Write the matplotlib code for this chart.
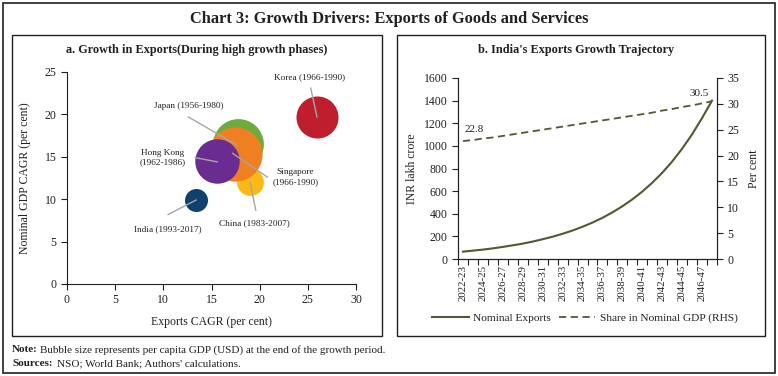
import matplotlib
matplotlib.use("Agg")
import matplotlib.pyplot as plt
from matplotlib.patches import Rectangle
import numpy as np

plt.rcParams['font.family'] = ['Liberation Serif', 'DejaVu Serif']

# ---------------- Panel a data ----------------
countries = ["Korea (1966-1990)", "Japan (1956-1980)", "China (1983-2007)",
             "Singapore\n(1966-1990)", "Hong Kong\n(1962-1986)", "India (1993-2017)"]
exports_cagr = [25.9, 17.7, 19.0, 17.4, 15.6, 13.4]
gdp_cagr = [19.7, 16.5, 12.0, 15.3, 14.5, 9.9]
per_capita_gdp = [6610, 9660, 2690, 11000, 7400, 1980]
bubble_colors = ["#BE1E2D", "#6DAB3C", "#FDB913", "#F07F22", "#6B2C91", "#0F416F"]
label_pos = [(25.2, 24.4), (12.6, 21.0), (19.5, 7.2), (23.7, 12.6), (9.9, 14.9), (10.5, 6.5)]
line_start = [(25.3, 23.1), (12.6, 19.7), (19.6, 8.7), (20.8, 12.6), (13.3, 14.9), (10.5, 8.2)]
line_end = [(25.95, 19.7), (17.6, 16.4), (19.0, 12.0), (17.2, 15.4), (15.6, 14.4), (13.4, 9.9)]

# ---------------- Panel b data ----------------
years = ["2022-23", "2023-24", "2024-25", "2025-26", "2026-27", "2027-28", "2028-29",
         "2029-30", "2030-31", "2031-32", "2032-33", "2033-34", "2034-35", "2035-36",
         "2036-37", "2037-38", "2038-39", "2039-40", "2040-41", "2041-42", "2042-43",
         "2043-44", "2044-45", "2045-46", "2046-47", "2047-48"]
nominal_exports = [65, 74, 83, 94, 107, 121, 136, 154, 175, 197, 223, 252, 285, 322,
                   364, 412, 466, 527, 596, 674, 762, 862, 975, 1102, 1246, 1400]
share_gdp = [22.8, 23.0, 23.3, 23.5, 23.8, 24.1, 24.4, 24.7, 25.0, 25.3, 25.6, 25.9,
             26.2, 26.5, 26.8, 27.1, 27.4, 27.7, 28.0, 28.3, 28.7, 29.0, 29.4, 29.7,
             30.1, 30.5]

W, H = 778, 376
fig = plt.figure(figsize=(W / 100, H / 100), dpi=100)


def fx(px):
    return px / W


def fy(py):
    return 1 - py / H


def box(x0, y0, x1, y1, lw=1.0):
    fig.patches.append(Rectangle((fx(x0), fy(y1)), fx(x1) - fx(x0), fy(y0) - fy(y1),
                                 transform=fig.transFigure, fill=False,
                                 edgecolor="#231F20", linewidth=lw))


box(3, 3, 775, 373, 1.2)
box(12, 35, 382, 336)
box(397, 35, 765, 336)

fig.text(0.5, fy(19), "Chart 3: Growth Drivers: Exports of Goods and Services",
         ha="center", va="center", fontsize=11.8, fontweight="bold", color="#231F20")

tc = "#231F20"

# ---------------- Panel a ----------------
ax1 = fig.add_axes([fx(67), fy(284), fx(356) - fx(67), fy(72) - fy(284)])
k = 0.1385
order = [1, 2, 3, 4, 0, 5]
for i in order:
    ax1.scatter(exports_cagr[i], gdp_cagr[i], s=per_capita_gdp[i] * k,
                color=bubble_colors[i], linewidths=0, zorder=2)
for i in range(len(countries)):
    ax1.plot([line_start[i][0], line_end[i][0]], [line_start[i][1], line_end[i][1]],
             color="#A6A6A6", lw=1.0, zorder=3)
    ax1.text(label_pos[i][0], label_pos[i][1], countries[i], ha="center", va="center",
             fontsize=6.7, color=tc, linespacing=1.25, zorder=4)
ax1.set_xlim(0, 30)
ax1.set_ylim(0, 25)
ax1.set_xticks(range(0, 31, 5))
ax1.set_yticks(range(0, 26, 5))
for s in ["top", "right"]:
    ax1.spines[s].set_visible(False)
for s in ["left", "bottom"]:
    ax1.spines[s].set_color(tc)
    ax1.spines[s].set_linewidth(0.8)
ax1.tick_params(direction="out", length=4, width=0.8, colors=tc, labelsize=8.5)
ax1.set_xlabel("Exports CAGR (per cent)", fontsize=8.5, color=tc, labelpad=7)
ax1.set_ylabel("Nominal GDP CAGR (per cent)", fontsize=8.5, color=tc, labelpad=10)
fig.text(fx(197), fy(50), "a. Growth in Exports(During high growth phases)",
         ha="center", va="center", fontsize=8.8, fontweight="bold", color=tc)

# ---------------- Panel b ----------------
ax2 = fig.add_axes([fx(458), fy(259), fx(717) - fx(458), fy(78) - fy(259)])
x = np.arange(len(years))
lc = "#4E5B31"
l1, = ax2.plot(x, nominal_exports, color=lc, lw=1.5, label="Nominal Exports")
ax2.set_xlim(-0.5, len(years) - 0.5)
ax2.set_ylim(0, 1600)
ax2.set_yticks(range(0, 1601, 200))
ax2.set_xticks(x[::2])
ax2.set_xticklabels(years[::2], rotation=90, fontsize=7.8)
ax2.set_xticks(np.arange(-0.5, len(years), 1), minor=True)
ax2.tick_params(axis="x", which="major", length=0, pad=4, colors=tc)
ax2.tick_params(axis="x", which="minor", length=4, width=0.8, direction="out", color=tc)
ax2.tick_params(axis="y", direction="out", length=4, width=0.8, colors=tc, labelsize=8.5)
ax2.set_ylabel("INR lakh crore", fontsize=8.5, color=tc, labelpad=4)

ax3 = ax2.twinx()
l2, = ax3.plot(x, share_gdp, color=lc, lw=1.3, ls=(0, (4, 2.5)),
               label="Share in Nominal GDP (RHS)")
ax3.set_ylim(0, 35)
ax3.set_yticks(range(0, 36, 5))
ax3.tick_params(axis="y", direction="out", length=4, width=0.8, colors=tc, labelsize=8.5)
ax3.set_ylabel("Per cent", fontsize=8.5, color=tc, labelpad=6)
ax3.text(x[0] + 0.2, share_gdp[0] + 1.3, f"{share_gdp[0]:.1f}", fontsize=8,
         color=tc, ha="left", va="bottom")
ax3.text(x[-1] - 0.3, share_gdp[-1] + 0.6, f"{share_gdp[-1]:.1f}", fontsize=8,
         color=tc, ha="right", va="bottom")
for a in (ax2, ax3):
    a.spines["top"].set_visible(False)
    for s in ["left", "right", "bottom"]:
        a.spines[s].set_color(tc)
        a.spines[s].set_linewidth(0.8)

fig.legend(handles=[l1, l2], loc="center", bbox_to_anchor=(fx(585), fy(318)),
           ncol=2, frameon=False, fontsize=8.2, handlelength=3.2,
           columnspacing=0.7, handletextpad=0.4, labelcolor=tc)
fig.text(fx(576), fy(50), "b. India's Exports Growth Trajectory",
         ha="center", va="center", fontsize=8.8, fontweight="bold", color=tc)

# ---------------- Notes ----------------
fig.text(fx(12), fy(350), "Note:", fontsize=8, fontweight="bold", va="center", color=tc)
fig.text(fx(40), fy(350), "Bubble size represents per capita GDP (USD) at the end of the growth period.",
         fontsize=8, va="center", color=tc)
fig.text(fx(12), fy(364), "Sources:", fontsize=8, fontweight="bold", va="center", color=tc)
fig.text(fx(57), fy(364), "NSO; World Bank; Authors' calculations.",
         fontsize=8, va="center", color=tc)

fig.savefig("out.png", dpi=100)
